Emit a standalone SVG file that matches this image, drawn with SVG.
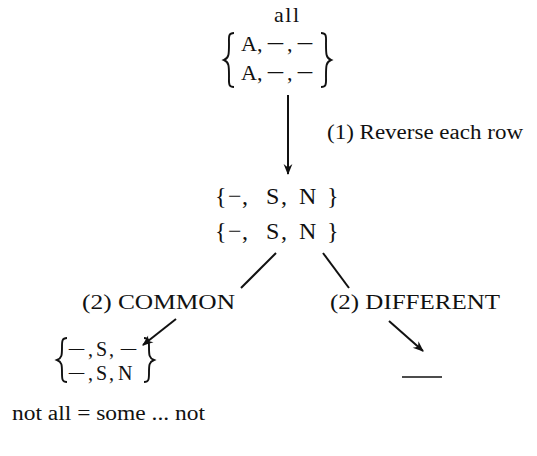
<svg xmlns="http://www.w3.org/2000/svg" width="537" height="456" viewBox="0 0 537 456">
<style>
text { font-family: "Liberation Serif", "DejaVu Serif", serif; fill: #111; }
.t { font-size: 22px; }
.m { font-size: 22px; }
.mid { font-size: 24px; }
.s { font-size: 20px; }
.br { fill: none; stroke: #111; stroke-width: 1.9; }
.ln { stroke: #111; stroke-width: 2; fill: none; }
</style>
<defs>
<marker id="ah" viewBox="0 0 10 10" refX="9" refY="5" markerWidth="16" markerHeight="11" orient="auto" markerUnits="userSpaceOnUse">
<path d="M0,1 L10,5 L0,9 L3,5 Z" fill="#111"/>
</marker>
</defs>
<rect width="537" height="456" fill="#fff"/>
<g id="n-all">
<text class="t" x="274" y="22" letter-spacing="1.5">all</text>
<path class="br" d="M234,33 C228,33 229,37 229,44 C229,54 229,58 224,60 C229,62 229,66 229,76 C229,83 228,87 234,87"/>
<text class="t" x="241" y="51">A,</text>
<text class="m" x="266" y="51" textLength="19" lengthAdjust="spacingAndGlyphs">−</text>
<text class="t" x="287" y="51">,</text>
<text class="m" x="296" y="51" textLength="18" lengthAdjust="spacingAndGlyphs">−</text>
<text class="t" x="241" y="80">A,</text>
<text class="m" x="266" y="80" textLength="19" lengthAdjust="spacingAndGlyphs">−</text>
<text class="t" x="287" y="80">,</text>
<text class="m" x="296" y="80" textLength="18" lengthAdjust="spacingAndGlyphs">−</text>
<path class="br" d="M321,33 C327,33 326,37 326,44 C326,54 326,58 331,60 C326,62 326,66 326,76 C326,83 327,87 321,87"/>
</g>
<g id="n-reversed">
<text class="mid" x="215 228 242 266 281 299 327" y="204">{−,S,N}</text>
<text class="mid" x="215 228 242 266 281 299 327" y="239">{−,S,N}</text>
</g>
<g id="n-common">
<text class="s" x="82" y="309" textLength="153" lengthAdjust="spacingAndGlyphs">(2) COMMON</text>
</g>
<g id="n-different">
<text class="s" x="330" y="309" textLength="170" lengthAdjust="spacingAndGlyphs">(2) DIFFERENT</text>
</g>
<g id="n-common-result">
<path class="br" d="M67,338 C62,338 62,341 62,347 C62,355 62,358 57,360 C62,362 62,365 62,373 C62,379 62,382 67,382"/>
<text class="s" x="67" y="356" textLength="19" lengthAdjust="spacingAndGlyphs">−</text>
<text class="s" x="88 96 109" y="356">,S,</text>
<text class="s" x="119" y="356" textLength="19" lengthAdjust="spacingAndGlyphs">−</text>
<text class="s" x="67" y="380" textLength="19" lengthAdjust="spacingAndGlyphs">−</text>
<text class="s" x="88 96 109 118" y="380">,S,N</text>
<path class="br" d="M144,338 C149,338 149,341 149,347 C149,355 149,358 154,360 C149,362 149,365 149,373 C149,379 149,382 144,382"/>
<text class="s" x="12" y="420" textLength="193" lengthAdjust="spacingAndGlyphs">not all = some ... not</text>
</g>
<g id="n-different-result">
<line x1="402" y1="377" x2="442" y2="377" stroke="#111" stroke-width="1.6"/>
</g>
<g id="connectors">
<line class="ln" x1="176" y1="319" x2="143" y2="345" marker-end="url(#ah)"/>
<line class="ln" x1="288" y1="95" x2="288" y2="174" marker-end="url(#ah)"/>
<text class="s" x="327" y="139" textLength="196" lengthAdjust="spacingAndGlyphs">(1) Reverse each row</text>
<line class="ln" x1="276" y1="253" x2="241" y2="288"/>
<line class="ln" x1="323" y1="253" x2="349" y2="288"/>
<line class="ln" x1="389" y1="321" x2="423" y2="351" marker-end="url(#ah)"/>
</g>
</svg>
